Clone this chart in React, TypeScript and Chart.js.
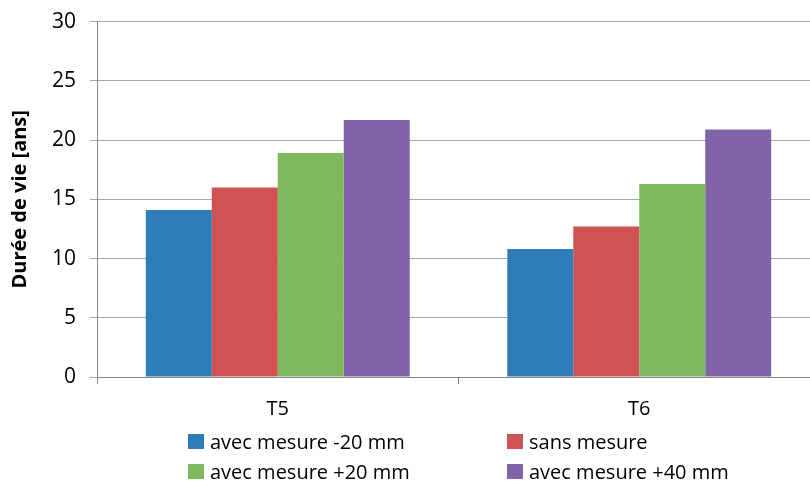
import React, { useEffect, useRef } from "react";
import { Chart, registerables } from "chart.js";

Chart.register(...registerables);

const categories = ["T5", "T6"];
const seriesNames = ["avec mesure -20 mm", "sans mesure", "avec mesure +20 mm", "avec mesure +40 mm"];
const series1 = [14.1, 10.8];
const series2 = [16.0, 12.7];
const series3 = [18.9, 16.3];
const series4 = [21.7, 20.9];
const colors = ["#2e7db8", "#d05353", "#7fb95d", "#8064a7"];
const yTitle = "Durée de vie [ans]";

const FONT = "'Open Sans', 'DejaVu Sans', sans-serif";

export default function App() {
  const ref = useRef<HTMLCanvasElement | null>(null);
  useEffect(() => {
    document.body.style.margin = "0";
    const values = [series1, series2, series3, series4];
    const chart = new Chart(ref.current!, {
      type: "bar",
      data: {
        labels: categories,
        datasets: seriesNames.map((n, i) => ({
          label: n,
          data: values[i],
          backgroundColor: colors[i],
          borderWidth: 0,
          barPercentage: 1,
          categoryPercentage: 0.73,
        })),
      },
      options: {
        animation: false,
        responsive: false,
        layout: { padding: { top: 15, right: 2, left: 0, bottom: 0 } },
        plugins: { legend: { display: false }, tooltip: { enabled: false } },
        scales: {
          x: {
            grid: { display: true, drawOnChartArea: false, tickLength: 7, color: "#868686", offset: true },
            border: { color: "#868686", width: 1 },
            ticks: { color: "#000", font: { family: FONT, size: 20 }, padding: 13 },
            afterFit: (s: any) => { s.height = 106; },
          },
          y: {
            min: 0,
            max: 30,
            ticks: { stepSize: 5, color: "#000", font: { family: FONT, size: 21 }, padding: 14 },
            grid: { color: "#a6a6a6", tickLength: 7, lineWidth: 1 },
            border: { color: "#868686", width: 1 },
            title: { display: true, text: yTitle, color: "#000", font: { family: FONT, size: 20, weight: "bold" }, padding: { top: 8, bottom: 0 } },
            afterFit: (s: any) => { s.width = 97; },
          },
        },
      },
    });
    return () => chart.destroy();
  }, []);

  const legendItem = (i: number, left: number, top: number) => (
    <div key={i} style={{ position: "absolute", left, top, height: 28, display: "flex", alignItems: "center", fontFamily: FONT, fontSize: 20, color: "#000", whiteSpace: "nowrap" }}>
      <span style={{ display: "inline-block", width: 16, height: 15, background: colors[i], marginRight: 6 }} />
      <span>{seriesNames[i]}</span>
    </div>
  );

  return (
    <div style={{ position: "fixed", left: 0, top: 0, width: 810, height: 483, overflow: "hidden", background: "#fff" }}>
      <canvas ref={ref} width={822} height={488} style={{ position: "absolute", left: 0, top: -5 }} />
      {legendItem(0, 188, 427)}
      {legendItem(1, 507, 427)}
      {legendItem(2, 188, 457)}
      {legendItem(3, 507, 457)}
    </div>
  );
}
